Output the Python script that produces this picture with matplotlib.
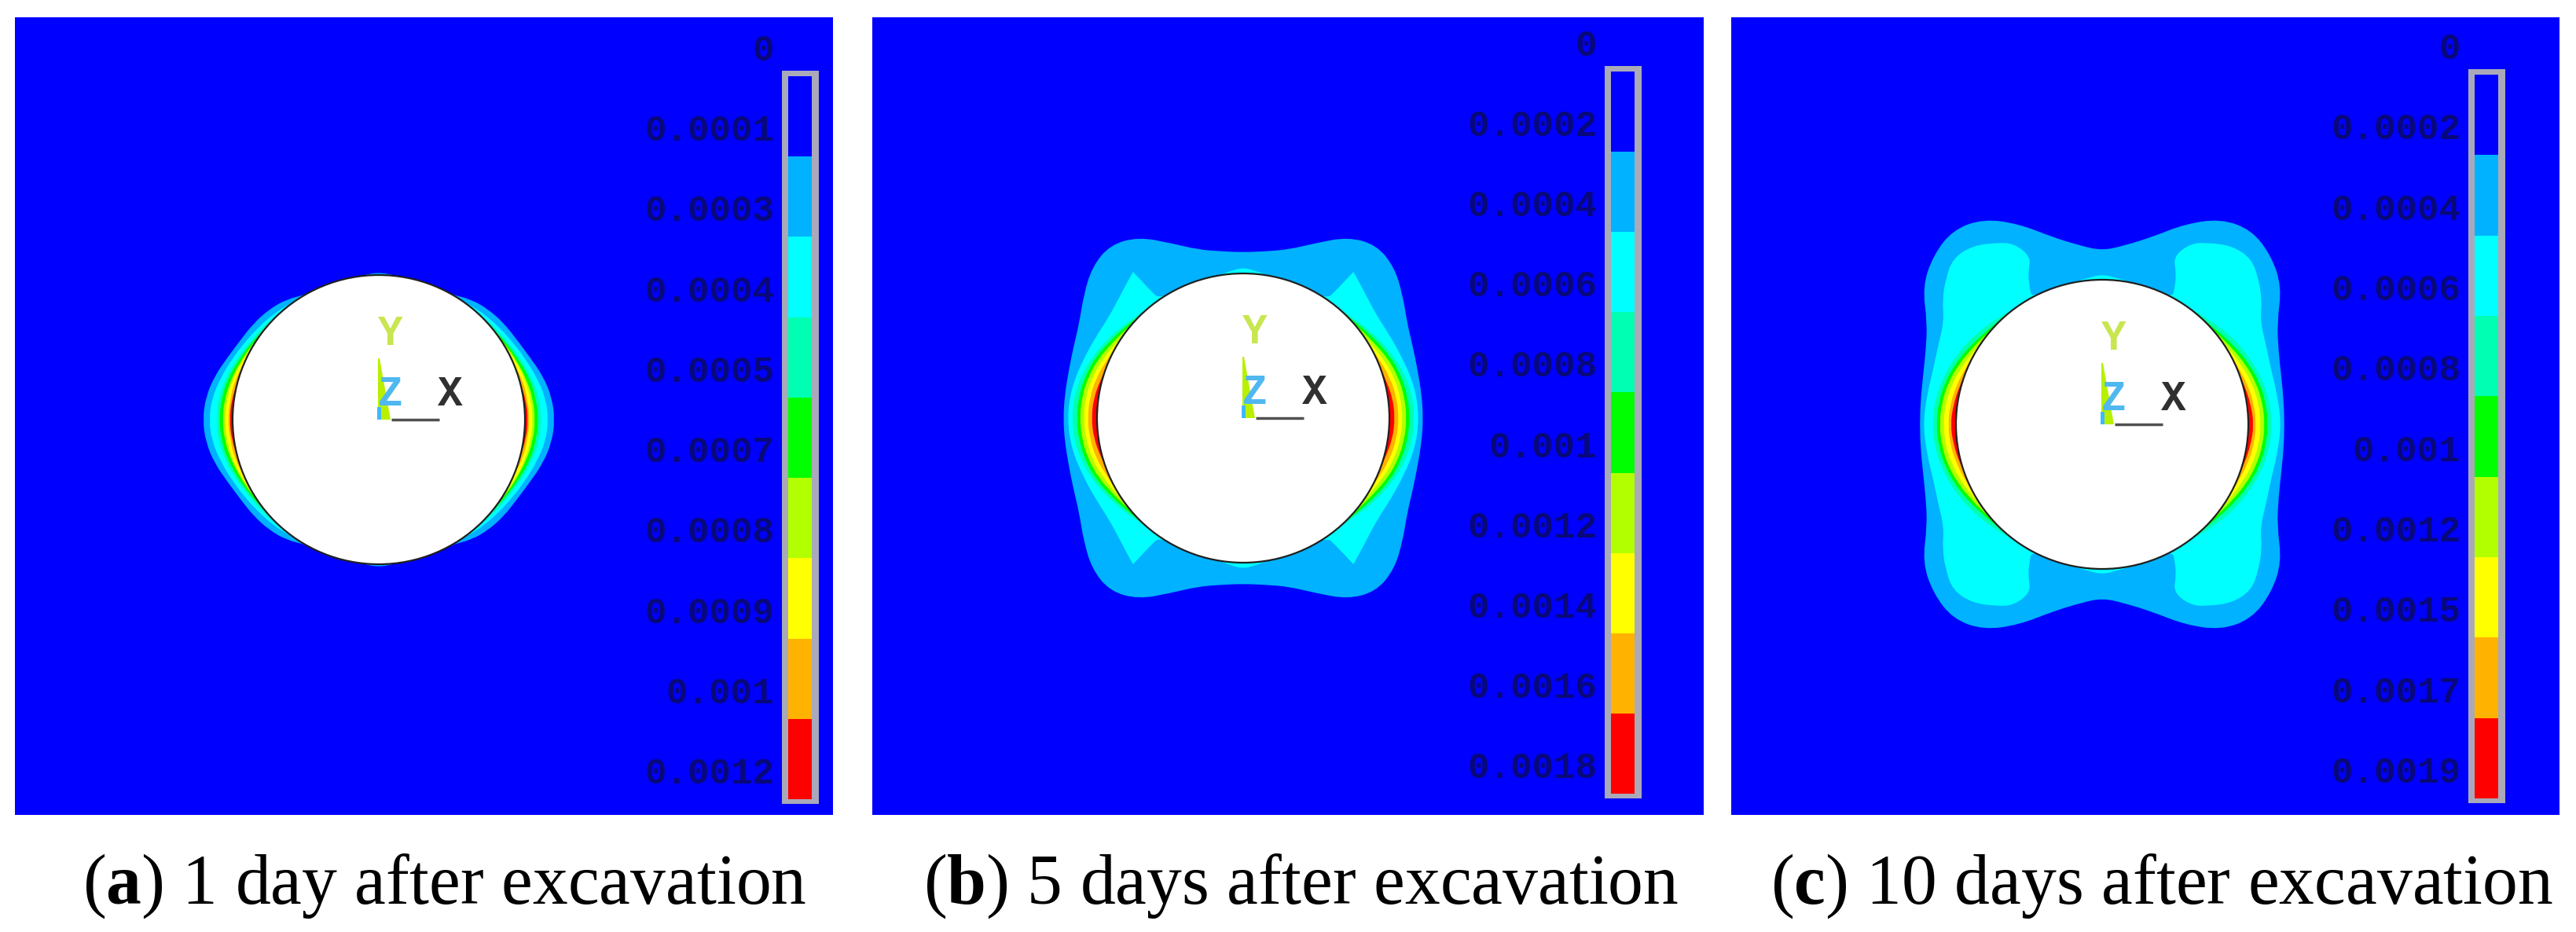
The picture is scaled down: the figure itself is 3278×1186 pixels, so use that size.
import numpy as np
import matplotlib
matplotlib.use("Agg")
import matplotlib.pyplot as plt
from matplotlib.patches import Ellipse, PathPatch, Rectangle
from matplotlib.path import Path

plt.rcParams["font.family"] = ["Liberation Serif", "DejaVu Serif"]
plt.rcParams["mathtext.fontset"] = "custom"
plt.rcParams["mathtext.rm"] = "Liberation Serif"
plt.rcParams["mathtext.bf"] = "Liberation Serif:bold"

W, H = 3278, 1186

# contour level colours, low to high
level_colors = ["#0000FF", "#00B2FF", "#00FFFF", "#00FFB2", "#00FF00",
                "#B2FF00", "#FFFF00", "#FFB200", "#FF0000"]

# angle from the x axis (one quadrant, mirrored to the other three)
angles_deg = [0, 7.5, 15, 22.5, 30, 37.5, 45, 52.5, 60, 67.5, 75, 82.5, 90]

# outer radius of each band in px, level 1 to level 8
bands_a = [
    [224, 222, 216, 208, 203, 201, 198, 193, 184, 184, 184, 184, 188],
    [216, 214, 208, 202, 197, 193, 190, 186, 184, 184, 184, 184, 184],
    [207, 206, 202, 197, 192, 189, 186, 184, 184, 184, 184, 184, 184],
    [203, 202, 199, 194, 190, 186, 184, 184, 184, 184, 184, 184, 184],
    [199, 198, 195, 191, 188, 184, 184, 184, 184, 184, 184, 184, 184],
    [196, 195, 193, 190, 186, 184, 184, 184, 184, 184, 184, 184, 184],
    [192, 191, 190, 186, 184, 184, 184, 184, 184, 184, 184, 184, 184],
    [190, 189, 186, 184, 184, 184, 184, 184, 184, 184, 184, 184, 184],
]
bands_b = [
    [229, 229, 230, 234, 241, 256, 272, 278, 266, 241, 222, 214, 211],
    None,
    [218, 217, 213, 207, 200, 193, 187, 184, 184, 184, 184, 184, 184],
    [212, 211, 208, 203, 196, 190, 185, 184, 184, 184, 184, 184, 184],
    [208, 207, 204, 199, 192, 187, 184, 184, 184, 184, 184, 184, 184],
    [203, 202, 199, 194, 188, 185, 184, 184, 184, 184, 184, 184, 184],
    [198, 197, 194, 189, 185, 184, 184, 184, 184, 184, 184, 184, 184],
    [193, 192, 188, 185, 184, 184, 184, 184, 184, 184, 184, 184, 184],
]
bands_c = [
    [232, 233, 236, 243, 257, 288, 304, 312, 302, 276, 247, 230, 221],
    None,
    [216, 215, 212, 207, 202, 196, 190, 185, 184, 184, 184, 184, 184],
    [211, 210, 207, 202, 196, 190, 186, 184, 184, 184, 184, 184, 184],
    [207, 206, 203, 198, 192, 187, 184, 184, 184, 184, 184, 184, 184],
    [202, 201, 198, 193, 188, 185, 184, 184, 184, 184, 184, 184, 184],
    [196, 195, 192, 188, 185, 184, 184, 184, 184, 184, 184, 184, 184],
    [193, 191, 188, 185, 184, 184, 184, 184, 184, 184, 184, 184, 184],
]

# the cyan level has a more awkward outline, so it gets its own angles
cyan_angles_b = [0, 10, 20, 30, 37, 45, 50, 53, 53, 54, 55, 80, 84, 90]
cyan_radii_b = [224, 222, 217, 214, 214, 221, 228, 233, 233, 200, 184, 184, 187, 192]
cyan_angles_c = [0, 10, 18, 25, 33, 38, 43, 48, 54, 60, 64, 67, 64, 62, 61, 75, 84, 90]
cyan_radii_c = [228, 226, 226, 231, 240, 258, 272, 284, 281, 267, 256, 232, 215, 197, 184, 184, 187, 191]

labels_a = ["0", "0.0001", "0.0003", "0.0004", "0.0005", "0.0007", "0.0008", "0.0009", "0.001", "0.0012"]
labels_b = ["0", "0.0002", "0.0004", "0.0006", "0.0008", "0.001", "0.0012", "0.0014", "0.0016", "0.0018"]
labels_c = ["0", "0.0002", "0.0004", "0.0006", "0.0008", "0.001", "0.0012", "0.0015", "0.0017", "0.0019"]

captions = ["($\\mathbf{a}$) 1 day after excavation",
            "($\\mathbf{b}$) 5 days after excavation",
            "($\\mathbf{c}$) 10 days after excavation"]

# x0, x1, y0, y1 of the blue box, circle centre, colour bar x0, y0, y1, caption x
panels = [
    (19, 1060, 22, 1037, 482, 534, 995, 90, 1023, 105, bands_a, labels_a, None, None),
    (1110, 2168, 22, 1037, 1582, 532, 2042, 84, 1016, 1175, bands_b, labels_b, cyan_angles_b, cyan_radii_b),
    (2203, 3257, 22, 1037, 2675, 540, 3141, 88, 1022, 2253, bands_c, labels_c, cyan_angles_c, cyan_radii_c),
]


def outline(cx, cy, ang, rad, color):
    # mirror the quadrant, then smooth the closed outline with quadratic beziers
    a = np.radians(np.array(ang, dtype=float))
    r = np.array(rad, dtype=float)
    th = np.concatenate([a, np.pi - a[::-1][1:], np.pi + a[1:], 2 * np.pi - a[::-1][1:-1]])
    rr = np.concatenate([r, r[::-1][1:], r[1:], r[::-1][1:-1]])
    pts = np.column_stack([cx + rr * np.cos(th), cy - rr * np.sin(th)])
    mids = (pts + np.roll(pts, -1, axis=0)) / 2
    verts = [mids[-1]]
    codes = [Path.MOVETO]
    for p, m in zip(pts, mids):
        verts += [p, m]
        codes += [Path.CURVE3, Path.CURVE3]
    return PathPatch(Path(verts, codes), fc=color, ec="none", lw=0)


fig = plt.figure(figsize=(W / 100, H / 100), dpi=100)
ax = fig.add_axes([0, 0, 1, 1])
ax.set_xlim(0, W)
ax.set_ylim(H, 0)
ax.axis("off")

mono = dict(family="Liberation Mono", fontsize=33, weight="bold")
axis_font = dict(family="Liberation Mono", fontsize=38, weight="bold", ha="center", va="center")

for n, (x0, x1, y0, y1, cx, cy, bx, by0, by1, capx, bands, labels, cyan_a, cyan_r) in enumerate(panels):
    ax.add_patch(Rectangle((x0, y0), x1 - x0, y1 - y0, fc=level_colors[0], ec="none"))

    # contour bands, outermost first
    for k, band in enumerate(bands):
        if band is None:
            ax.add_patch(outline(cx, cy, cyan_a, cyan_r, level_colors[k + 1]))
        else:
            ax.add_patch(outline(cx, cy, angles_deg, band, level_colors[k + 1]))

    ax.add_patch(Ellipse((cx, cy), 372, 368, fc="white", ec="#202020", lw=1.6))

    # axis triad
    ax.plot([cx + 16, cx + 77], [cy, cy], color="#505050", lw=2.5, solid_capstyle="butt")
    ax.fill([cx - 1, cx + 1, cx + 15, cx - 1], [cy - 78, cy - 78, cy, cy], color="#B8F000", lw=0)
    ax.fill([cx - 2, cx + 3, cx + 3, cx - 2], [cy - 16, cy - 16, cy, cy], color="#40B8FF", lw=0)
    ax.text(cx + 15, cy - 109, "Y", color="#C8E650", **axis_font)
    ax.text(cx + 15, cy - 32, "Z", color="#50B8F0", **axis_font)
    ax.text(cx + 91, cy - 32, "X", color="#303030", **axis_font)

    # colour bar
    ax.add_patch(Rectangle((bx, by0), 47, by1 - by0, fc="#A9A9B9", ec="none"))
    inner0, inner1 = by0 + 7, by1 - 6
    edges = np.linspace(inner0, inner1, len(level_colors) + 1)
    ax.bar(np.full(len(level_colors), bx + 23), np.diff(edges), width=30, bottom=edges[:-1],
           color=level_colors, lw=0)
    for lab, e in zip(labels, edges):
        ax.text(bx - 10, e - 32, lab, color="#08087A", ha="right", va="center", **mono)

    ax.text(capx, 1150, captions[n], fontsize=64.5, color="black", ha="left", va="baseline")

fig.savefig("out.png", dpi=100, facecolor="white")
